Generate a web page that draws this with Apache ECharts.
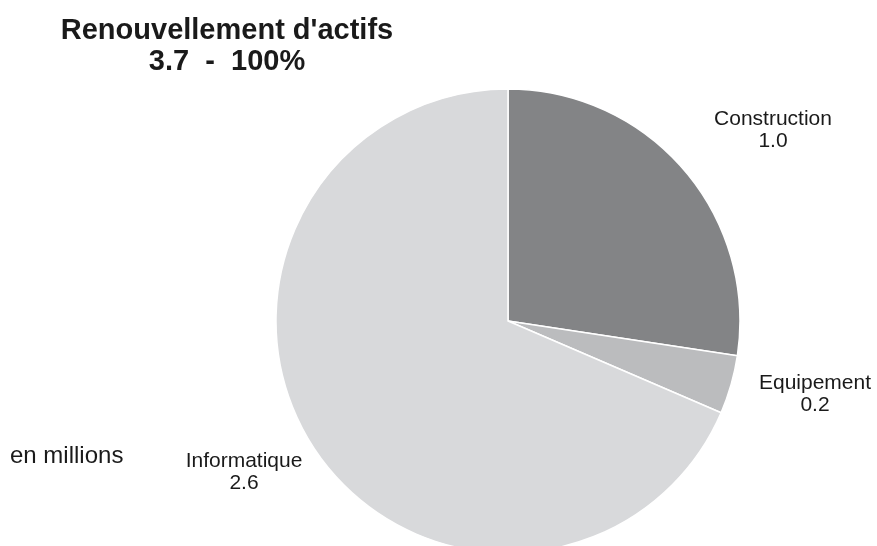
<!DOCTYPE html>
<html>
<head>
<meta charset="utf-8">
<script src="https://cdn.jsdelivr.net/npm/echarts@6/dist/echarts.min.js"></script>
<style>html,body{margin:0;padding:0;background:#fff}#c{width:877px;height:546px}</style>
</head>
<body>
<div id="c"></div>
<script>
var categories = ["Construction", "Equipement", "Informatique"];
var values = [1.02, 0.152, 2.552];
var colors = ["#838486", "#bbbcbe", "#d8d9db"];

var total = values.reduce(function (a, b) { return a + b; }, 0);
var labelPos = [[773, 130], [815, 394], [244, 472]];
var chart = echarts.init(document.getElementById('c'));
chart.setOption({
  animation: false,
  title: {
    text: "Renouvellement d'actifs\n" + total.toFixed(1) + "  -  100%",
    left: 222, top: 10, textAlign: 'center',
    textStyle: { fontFamily: 'Liberation Sans', fontSize: 29, fontWeight: 'bold', color: '#1a1a1a', lineHeight: 31, align: 'center' }
  },
  graphic: [{
    type: 'text', left: 10, top: 444,
    style: { text: 'en millions', font: '24px "Liberation Sans"', fill: '#1a1a1a' }
  }],
  series: [{
    type: 'pie',
    center: [508, 321],
    radius: 232,
    startAngle: 90,
    clockwise: true,
    avoidLabelOverlap: false,
    itemStyle: { borderColor: '#fff', borderWidth: 1.5 },
    label: {
      show: true, position: 'outside',
      formatter: function (p) { return p.name + '\n' + p.value.toFixed(1); },
      fontFamily: 'Liberation Sans', fontSize: 21, color: '#1a1a1a', lineHeight: 22, align: 'center'
    },
    labelLine: { show: false },
    labelLayout: function (p) {
      var pos = labelPos[p.dataIndex];
      return { x: pos[0], y: pos[1], align: 'center', verticalAlign: 'middle' };
    },
    emphasis: { disabled: true },
    data: categories.map(function (n, i) {
      return { name: n, value: values[i], itemStyle: { color: colors[i] } };
    })
  }]
});
</script>
</body>
</html>
